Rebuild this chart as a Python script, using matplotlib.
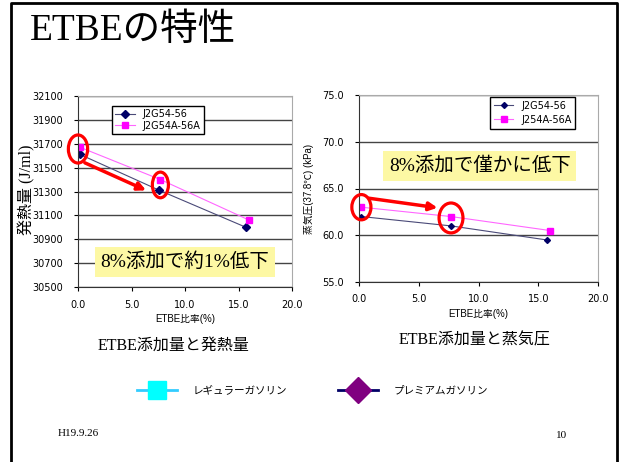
import matplotlib
matplotlib.use("Agg")
from matplotlib import pyplot as plt
from matplotlib.lines import Line2D
from matplotlib.patches import Ellipse

# data
etbe_a = [0.2, 7.6, 15.7]
heat_a = [31610, 31310, 31000]
etbe_b = [0.2, 7.7, 16.0]
heat_b = [31670, 31400, 31060]

vp_x_a = [0.2, 7.7, 15.7]
vp_a = [62.0, 61.0, 59.5]
vp_x_b = [0.2, 7.7, 16.0]
vp_b = [63.0, 62.0, 60.5]

heat_yticks = list(range(30500, 32101, 200))
vp_yticks = [55.0, 60.0, 65.0, 70.0, 75.0]
xticks = [0.0, 5.0, 10.0, 15.0, 20.0]

JP_SANS = ["Liberation Sans", "Noto Sans CJK JP"]
JP_SERIF = ["Liberation Serif", "Noto Sans CJK JP"]

W, H = 619, 462
fig = plt.figure(figsize=(W / 100, H / 100), dpi=100)


def px(x0, y0, x1, y1):
    return [x0 / W, 1 - y1 / H, (x1 - x0) / W, (y1 - y0) / H]


# slide frame (open at the bottom)
fig.lines.append(Line2D([11 / W, 11 / W, 617 / W, 617 / W],
                        [0, 1 - 3 / H, 1 - 3 / H, 0],
                        transform=fig.transFigure, color="black",
                        linewidth=2))

fig.text(30 / W, 1 - 31 / H, "ETBEの特性", fontsize=27, family=JP_SERIF,
         va="center", ha="left")


def style_axes(ax, yticks, yfmt):
    ax.set_xlim(0, 20)
    ax.set_xticks(xticks)
    ax.set_xticklabels([f"{t:.1f}" for t in xticks], fontsize=7)
    ax.set_yticks(yticks)
    ax.set_yticklabels([yfmt(t) for t in yticks], fontsize=7)
    ax.grid(axis="y", color="#444444", linewidth=1)
    ax.set_axisbelow(True)
    for s in ["top", "right"]:
        ax.spines[s].set_color("#aaaaaa")
        ax.spines[s].set_linewidth(0.8)
    for s in ["left", "bottom"]:
        ax.spines[s].set_color("#333333")
        ax.spines[s].set_linewidth(0.8)
    ax.tick_params(axis="y", length=3, width=0.8, pad=8)
    ax.tick_params(axis="x", length=3, width=0.8, pad=6)
    ax.set_xlabel("ETBE比率(%)", fontsize=7, family=JP_SANS, labelpad=3)


# left chart: heat value
ax1 = fig.add_axes(px(78, 96, 292, 287))
ax1.plot(etbe_a, heat_a, color="#4a4a78", linewidth=0.8, marker="D",
         markersize=4, markerfacecolor="#000066", markeredgecolor="#000066",
         label="J2G54-56")
ax1.plot(etbe_b, heat_b, color="#ff66ff", linewidth=0.8, marker="s",
         markersize=4, markerfacecolor="#ff00ff", markeredgecolor="#ff00ff",
         label="J2G54A-56A")
ax1.set_ylim(30500, 32100)
style_axes(ax1, heat_yticks, lambda t: f"{t}")
ax1.set_ylabel("発熱量 (J/ml)", fontsize=11.5, family=JP_SERIF)
ax1.yaxis.set_label_coords(35 / W, 1 - 190 / H, transform=fig.transFigure)
ax1.legend(loc="upper left", bbox_to_anchor=(0.159, 0.95), fontsize=7,
           frameon=True, fancybox=False, edgecolor="black", framealpha=1,
           handlelength=2, borderpad=0.35, labelspacing=0.2,
           borderaxespad=0)
ax1.add_patch(Ellipse((0.0, 31656), 1.8, 235, fill=False, edgecolor="red",
                      linewidth=2.3, zorder=5, clip_on=False))
ax1.add_patch(Ellipse((7.7, 31355), 1.5, 215, fill=False, edgecolor="red",
                      linewidth=2.3, zorder=5))
ax1.annotate("", xy=(6.6, 31300), xytext=(0.4, 31550),
             arrowprops=dict(arrowstyle="-|>", color="red", lw=2.5,
                             mutation_scale=12), zorder=6)
ax1.text(10.0, 30709, "8%添加で約1%低下", fontsize=14, family=JP_SERIF,
         ha="center", va="center",
         bbox=dict(boxstyle="square,pad=0.3", facecolor="#fdf8a4",
                   edgecolor="none"))

# right chart: vapour pressure
ax2 = fig.add_axes(px(359, 95, 598, 282))
ax2.plot(vp_x_a, vp_a, color="#4a4a78", linewidth=0.8, marker="D",
         markersize=3, markerfacecolor="#000066", markeredgecolor="#000066",
         label="J2G54-56")
ax2.plot(vp_x_b, vp_b, color="#ff66ff", linewidth=0.8, marker="s",
         markersize=4, markerfacecolor="#ff00ff", markeredgecolor="#ff00ff",
         label="J254A-56A")
ax2.set_ylim(55, 75)
style_axes(ax2, vp_yticks, lambda t: f"{t:.1f}")
ax2.set_ylabel("蒸気圧(37.8℃) (kPa)", fontsize=7, family=JP_SANS, labelpad=6)
ax2.legend(loc="upper left", bbox_to_anchor=(0.548, 0.99), fontsize=7,
           frameon=True, fancybox=False, edgecolor="black", framealpha=1,
           handlelength=2, borderpad=0.4, labelspacing=0.4,
           borderaxespad=0)
ax2.add_patch(Ellipse((0.2, 63.0), 1.6, 2.7, fill=False, edgecolor="red",
                      linewidth=2.3, zorder=5, clip_on=False))
ax2.add_patch(Ellipse((7.7, 61.85), 2.0, 3.2, fill=False, edgecolor="red",
                      linewidth=2.3, zorder=5))
ax2.annotate("", xy=(6.8, 62.9), xytext=(0.6, 64.0),
             arrowprops=dict(arrowstyle="-|>", color="red", lw=2.5,
                             mutation_scale=12), zorder=6)
ax2.text(10.1, 67.4, "8%添加で僅かに低下", fontsize=14, family=JP_SERIF,
         ha="center", va="center",
         bbox=dict(boxstyle="square,pad=0.3", facecolor="#fdf8a4",
                   edgecolor="none"))

# captions
fig.text(174 / W, 1 - 346 / H, "ETBE添加量と発熱量", fontsize=11.5,
         family=JP_SERIF, ha="center", va="center")
fig.text(475 / W, 1 - 340 / H, "ETBE添加量と蒸気圧", fontsize=11.5,
         family=JP_SERIF, ha="center", va="center")

# shared legend
handles = [
    Line2D([], [], color="#33ccff", linewidth=2, marker="s", markersize=13,
           markerfacecolor="#00ffff", markeredgecolor="#00ffff"),
    Line2D([], [], color="#000066", linewidth=2, marker="D", markersize=13,
           markerfacecolor="#800080", markeredgecolor="#800080"),
]
fig.legend(handles, ["レギュラーガソリン", "プレミアムガソリン"],
           loc="center left", bbox_to_anchor=(127 / W, 1 - 391 / H), ncol=2,
           frameon=False, prop={"family": JP_SERIF, "size": 7.6},
           handlelength=3.8, columnspacing=4.8, handletextpad=1.5)

fig.text(58 / W, 1 - 434 / H, "H19.9.26", fontsize=8, family=JP_SERIF,
         ha="left", va="center")
fig.text(562 / W, 1 - 435 / H, "10", fontsize=8, family=JP_SERIF,
         ha="center", va="center")

fig.savefig("out.png", dpi=100)
